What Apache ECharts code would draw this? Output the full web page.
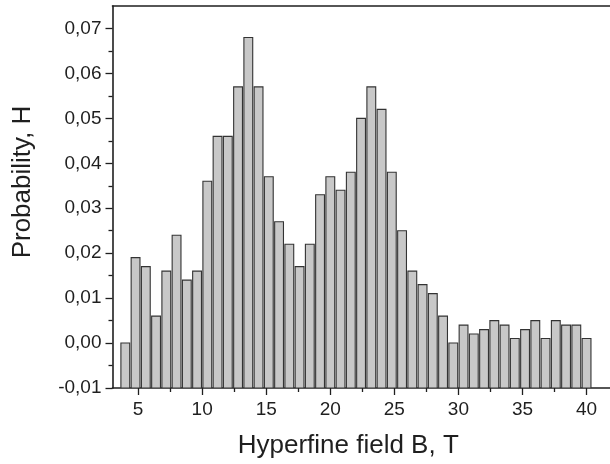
<!DOCTYPE html>
<html>
<head>
<meta charset="utf-8">
<script src="https://cdn.jsdelivr.net/npm/echarts@6/dist/echarts.min.js"></script>
<style>
html,body{margin:0;padding:0;background:#fff;}
#chart{width:610px;height:464px;}
</style>
</head>
<body>
<div id="chart"></div>
<script>
// Hyperfine field bins (T)
const fieldB = [4, 4.8, 5.6, 6.4, 7.2, 8, 8.8, 9.6, 10.4, 11.2, 12, 12.8, 13.6, 14.4, 15.2, 16,
  16.8, 17.6, 18.4, 19.2, 20, 20.8, 21.6, 22.4, 23.2, 24, 24.8, 25.6, 26.4, 27.2, 28, 28.8,
  29.6, 30.4, 31.2, 32, 32.8, 33.6, 34.4, 35.2, 36, 36.8, 37.6, 38.4, 39.2, 40];
// Probability H
const probability = [0.000, 0.019, 0.017, 0.006, 0.016, 0.024, 0.014, 0.016, 0.036, 0.046,
  0.046, 0.057, 0.068, 0.057, 0.037, 0.027, 0.022, 0.017, 0.022, 0.033, 0.037, 0.034, 0.038,
  0.050, 0.057, 0.052, 0.038, 0.025, 0.016, 0.013, 0.011, 0.006, 0.000, 0.004, 0.002, 0.003,
  0.005, 0.004, 0.001, 0.003, 0.005, 0.001, 0.005, 0.004, 0.004, 0.001];
const binStep = 0.8;
// Tick values
const xMajorTicks = [5, 10, 15, 20, 25, 30, 35, 40];
const xMinorTicks = [7.5, 12.5, 17.5, 22.5, 27.5, 32.5, 37.5];
const yMajorTicks = [-0.01, 0, 0.01, 0.02, 0.03, 0.04, 0.05, 0.06, 0.07];
const yMinorTicks = [-0.005, 0.005, 0.015, 0.025, 0.035, 0.045, 0.055, 0.065];
const xMin = 3, xMax = 41.83, yMin = -0.01, yMax = 0.075;

const font = '"Liberation Sans", Arial, sans-serif';
const ink = '#1f1f1f';
const chart = echarts.init(document.getElementById('chart'), null, {renderer: 'canvas'});
const data = fieldB.map((b, i) => [b, probability[i]]);

const baseX = {type: 'value', min: xMin, max: xMax, splitLine: {show: false}};
const baseY = {type: 'value', min: yMin, max: yMax, splitLine: {show: false}};

chart.setOption({
  animation: false,
  backgroundColor: '#fff',
  grid: {left: 112.5, right: 0, top: 6, bottom: 76, containLabel: false},
  xAxis: [
    Object.assign({}, baseX, {
      position: 'bottom',
      axisLine: {show: true, onZero: false, lineStyle: {color: ink, width: 1.6}},
      axisTick: {show: true, customValues: xMajorTicks, length: 7, lineStyle: {color: ink, width: 1.3}},
      axisLabel: {customValues: xMajorTicks, fontSize: 19, margin: 12, color: ink, fontFamily: font},
      name: 'Hyperfine field B, T',
      nameLocation: 'middle',
      nameGap: 45,
      nameTextStyle: {fontSize: 26, color: ink, fontFamily: font, padding: [0, 26, 0, 0]}
    }),
    Object.assign({}, baseX, {
      position: 'bottom',
      axisLine: {show: false, onZero: false},
      axisTick: {show: true, customValues: xMinorTicks, length: 4, lineStyle: {color: ink, width: 1.3}},
      axisLabel: {show: false}
    }),
    Object.assign({}, baseX, {
      position: 'top',
      axisLine: {show: true, onZero: false, lineStyle: {color: ink, width: 1.6}},
      axisTick: {show: false},
      axisLabel: {show: false}
    })
  ],
  yAxis: [
    Object.assign({}, baseY, {
      position: 'left',
      axisLine: {show: true, onZero: false, lineStyle: {color: ink, width: 1.6}},
      axisTick: {show: true, customValues: yMajorTicks, length: 7, lineStyle: {color: ink, width: 1.3}},
      axisLabel: {customValues: yMajorTicks, fontSize: 19, margin: 11, color: ink, fontFamily: font,
        formatter: v => v.toFixed(2).replace('.', ',')},
      name: 'Probability, H',
      nameLocation: 'middle',
      nameGap: 77,
      nameTextStyle: {fontSize: 26, color: ink, fontFamily: font, padding: [0, 0, 0, 30]}
    }),
    Object.assign({}, baseY, {
      position: 'left',
      axisLine: {show: false, onZero: false},
      axisTick: {show: true, customValues: yMinorTicks, length: 4, lineStyle: {color: ink, width: 1.3}},
      axisLabel: {show: false}
    })
  ],
  series: [{
    type: 'custom',
    xAxisIndex: 0,
    yAxisIndex: 0,
    clip: true,
    encode: {x: 0, y: 1},
    data: data,
    renderItem: function (params, api) {
      const x = api.value(0), v = api.value(1);
      const top = api.coord([x, v]);
      const base = api.coord([x, yMin]);
      const w = api.size([binStep, 0])[0] * 0.86;
      return {
        type: 'rect',
        shape: {x: top[0] - w / 2, y: top[1], width: w, height: base[1] - top[1]},
        style: {fill: '#c8c8c8', stroke: '#333333', lineWidth: 1.1}
      };
    }
  }]
});
</script>
</body>
</html>
